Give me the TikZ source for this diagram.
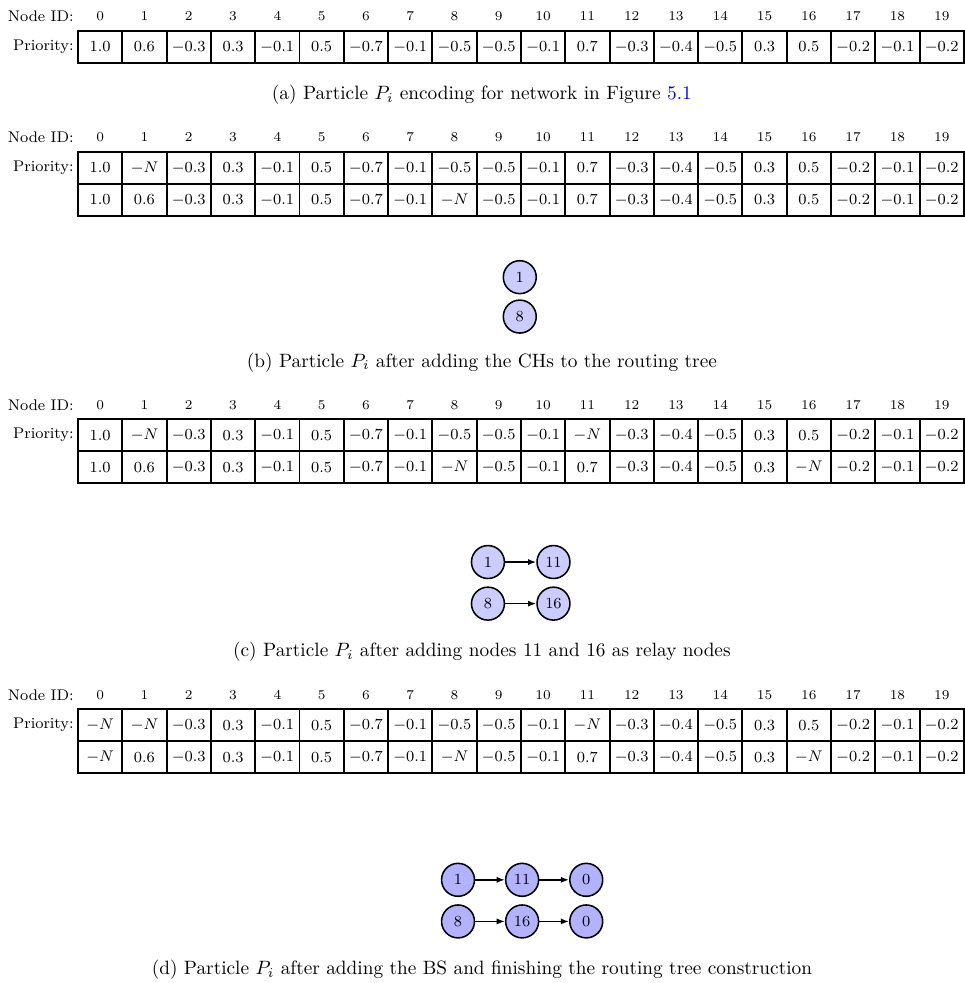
\documentclass[tikz,border=0pt]{standalone}
\usepackage{amsmath,amssymb}
\usepackage{xcolor}
\usepackage{tikz}
\usetikzlibrary{arrows.meta,positioning}

% one row of node ids
\newcommand{\idrow}[2]{%
  \node[lbl] (#1-lbl) at (1.348,#2) {Node ID:};
  \foreach \i in {0,...,19}
    \node[hdr] (#1-\i) at ({1.825+0.807*\i},#2) {\i};
}
% one row of priorities
\newcommand{\pvrow}[3]{%
  \foreach \v [count=\i from 0] in {#3}
    \node[cell] (#1-\i) at ({1.825+0.807*\i},#2) {$\v$};
}

\begin{document}
\begin{tikzpicture}[
  cell/.style={draw, line width=1pt, minimum width=0.807cm, minimum height=0.583cm,
    inner sep=0pt, font=\footnotesize},
  hdr/.style={font=\scriptsize, inner sep=0pt},
  lbl/.style={anchor=east, font=\footnotesize, inner sep=0pt},
  rnode/.style={draw, thick, circle, fill=blue!20, minimum size=0.6cm,
    inner sep=0pt, font=\footnotesize},
  arr/.style={-{Latex[length=1.5mm]}, thick},
  capt/.style={inner sep=0pt}
]
  \useasboundingbox (0,0) rectangle (17.58,-17.91);

  % (a)
  \idrow{ida}{-0.29}
  \node[lbl] (pa-lbl) at (1.348,-0.856) {Priority:};
  \pvrow{pa}{-0.856}{1.0,0.6,-0.3,0.3,-0.1,0.5,-0.7,-0.1,-0.5,-0.5,-0.1,0.7,-0.3,-0.4,-0.5,0.3,0.5,-0.2,-0.1,-0.2}
  \node[capt] (capa) at (8.78,-1.73) {(a) Particle $P_i$ encoding for network in Figure \textcolor{blue}{5.1}};

  % (b)
  \idrow{idb}{-2.50}
  \node[lbl] (pb-lbl) at (1.348,-3.06) {Priority:};
  \pvrow{pb1}{-3.06}{1.0,-N,-0.3,0.3,-0.1,0.5,-0.7,-0.1,-0.5,-0.5,-0.1,0.7,-0.3,-0.4,-0.5,0.3,0.5,-0.2,-0.1,-0.2}
  \pvrow{pb2}{-3.643}{1.0,0.6,-0.3,0.3,-0.1,0.5,-0.7,-0.1,-N,-0.5,-0.1,0.7,-0.3,-0.4,-0.5,0.3,0.5,-0.2,-0.1,-0.2}
  \node[rnode] (b-1) at (9.47,-5.05) {1};
  \node[rnode, below=0.09cm of b-1] (b-8) {8};
  \node[capt] (capb) at (8.78,-6.60) {(b) Particle $P_i$ after adding the CHs to the routing tree};

  % (c)
  \idrow{idc}{-7.38}
  \node[lbl] (pc-lbl) at (1.348,-7.93) {Priority:};
  \pvrow{pc1}{-7.93}{1.0,-N,-0.3,0.3,-0.1,0.5,-0.7,-0.1,-0.5,-0.5,-0.1,-N,-0.3,-0.4,-0.5,0.3,0.5,-0.2,-0.1,-0.2}
  \pvrow{pc2}{-8.513}{1.0,0.6,-0.3,0.3,-0.1,0.5,-0.7,-0.1,-N,-0.5,-0.1,0.7,-0.3,-0.4,-0.5,0.3,-N,-0.2,-0.1,-0.2}
  \node[rnode] (c-1) at (8.89,-10.24) {1};
  \node[rnode, right=0.566cm of c-1] (c-11) {11};
  \node[rnode, below=0.13cm of c-1] (c-8) {8};
  \node[rnode, right=0.566cm of c-8] (c-16) {16};
  \draw[arr] (c-1) -- (c-11);
  \draw[arr] (c-8) -- (c-16);
  \node[capt] (capc) at (8.78,-11.88) {(c) Particle $P_i$ after adding nodes 11 and 16 as relay nodes};

  % (d)
  \idrow{idd}{-12.66}
  \node[lbl] (pd-lbl) at (1.348,-13.21) {Priority:};
  \pvrow{pd1}{-13.21}{-N,-N,-0.3,0.3,-0.1,0.5,-0.7,-0.1,-0.5,-0.5,-0.1,-N,-0.3,-0.4,-0.5,0.3,0.5,-0.2,-0.1,-0.2}
  \pvrow{pd2}{-13.793}{-N,0.6,-0.3,0.3,-0.1,0.5,-0.7,-0.1,-N,-0.5,-0.1,0.7,-0.3,-0.4,-0.5,0.3,-N,-0.2,-0.1,-0.2}
  \begin{scope}[rnode/.append style={fill=blue!30}]
    \node[rnode] (d-1) at (8.345,-16.03) {1};
    \node[rnode, right=0.54cm of d-1] (d-11) {11};
    \node[rnode, right=0.54cm of d-11] (d-0a) {0};
    \node[rnode, below=0.13cm of d-1] (d-8) {8};
    \node[rnode, right=0.54cm of d-8] (d-16) {16};
    \node[rnode, right=0.54cm of d-16] (d-0b) {0};
  \end{scope}
  \draw[arr] (d-1) -- (d-11);
  \draw[arr] (d-11) -- (d-0a);
  \draw[arr] (d-8) -- (d-16);
  \draw[arr] (d-16) -- (d-0b);
  \node[capt] (capd) at (8.78,-17.67) {(d) Particle $P_i$ after adding the BS and finishing the routing tree construction};
\end{tikzpicture}
\end{document}
